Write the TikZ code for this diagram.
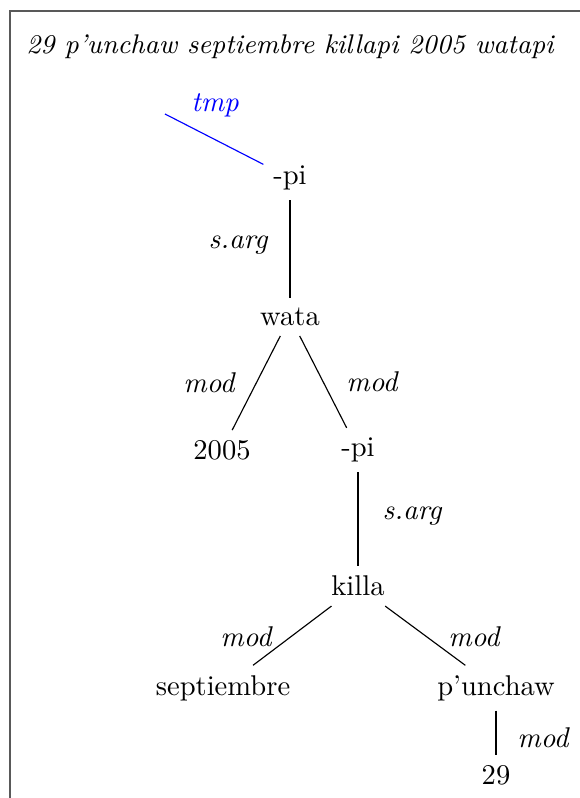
\documentclass[tikz,border=0pt]{standalone}
\begin{document}
\begin{tikzpicture}[x=0.35pt,y=-0.35pt,
  wd/.style={inner sep=3.3pt},
  lab/.style={font=\itshape},
  edge/.style={draw=black},
  tmpedge/.style={draw=blue}]
\useasboundingbox (0,0) rectangle (579,798);
\draw[black!65,line width=0.45pt] (10,810) -- (10,11) -- (590,11);
\node[font=\itshape\fontsize{9.45pt}{11pt}\selectfont] (title) at (290,47) {29 p'unchaw septiembre killapi 2005 watapi};
\node[wd] (pi1) at (290,178) {-pi};
\node[wd] (wata) at (290,317) {wata};
\node[wd] (y2005) at (222,450) {2005};
\node[wd] (pi2) at (358,450) {-pi};
\node[wd] (killa) at (358,586) {killa};
\node[wd] (sept) at (223,688) {septiembre};
\node[wd] (punchaw) at (496,688) {p'unchaw};
\node[wd] (n29) at (496,775) {29};
\coordinate (root) at (165,114);
\draw[tmpedge] (root) -- (pi1);
\node[lab,text=blue] (ltmp) at (215,105) {tmp};
\draw[edge] (pi1) -- (wata);
\node[lab] (l1) at (238,245) {s.arg};
\draw[edge] (wata) -- (y2005);
\node[lab] (l2) at (209,383) {mod};
\draw[edge] (wata) -- (pi2);
\node[lab] (l3) at (372,382) {mod};
\draw[edge] (pi2) -- (killa);
\node[lab] (l4) at (412,516) {s.arg};
\draw[edge] (killa) -- (sept);
\node[lab] (l5) at (246,637) {mod};
\draw[edge] (killa) -- (punchaw);
\node[lab] (l6) at (474,637) {mod};
\draw[edge] (punchaw) -- (n29);
\node[lab] (l7) at (543,738) {mod};
\end{tikzpicture}
\end{document}
